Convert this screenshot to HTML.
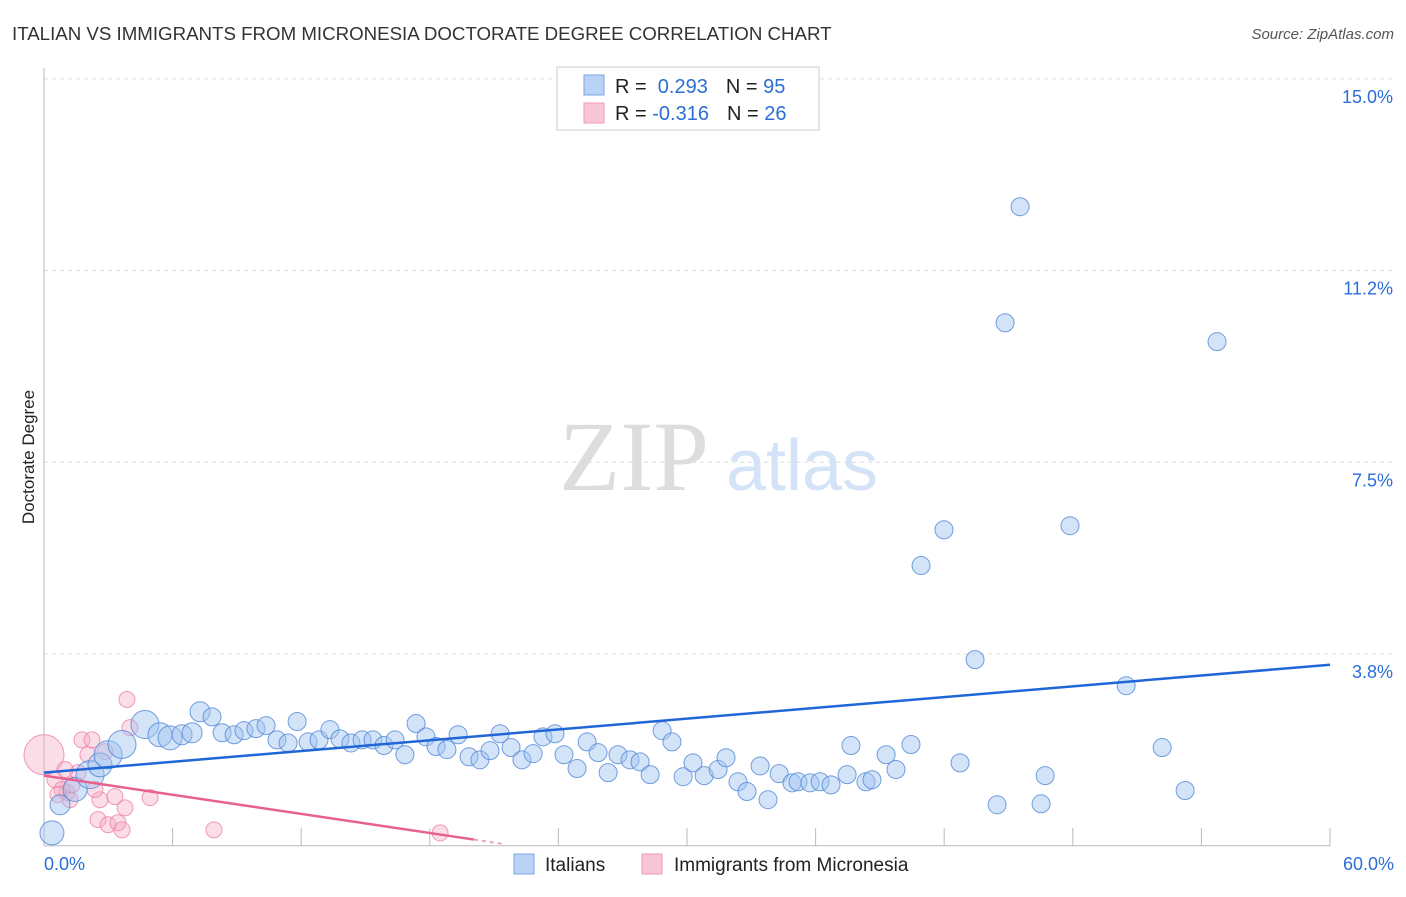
<!DOCTYPE html>
<html><head><meta charset="utf-8"><style>
body{margin:0;background:#fff;font-family:"Liberation Sans",sans-serif}
</style></head><body>
<svg id="c" width="1406" height="892" style="font-family:'Liberation Sans',sans-serif">
<text x="12" y="40" font-size="18.7" fill="#333">ITALIAN VS IMMIGRANTS FROM MICRONESIA DOCTORATE DEGREE CORRELATION CHART</text>
<text x="1394" y="39" font-size="15" fill="#555" font-style="italic" text-anchor="end">Source: ZipAtlas.com</text>
<text x="34" y="457" font-size="17" fill="#222" text-anchor="middle" transform="rotate(-90 34 457)">Doctorate Degree</text>
<g><text x="634" y="490" font-size="100" fill="#ddd" style="font-family:'Liberation Serif',serif" text-anchor="middle">ZIP</text><text x="802" y="490" font-size="72" fill="#d4e3f7" text-anchor="middle">atlas</text></g>
<g id="grid"></g><g id="marks"></g>
<g>
<rect x="557" y="67" width="262" height="63" fill="#fff" stroke="#ccc"/>
<rect x="584" y="75" width="20" height="20" fill="#b8d3f5" stroke="#7aa6e0"/>
<rect x="584" y="103" width="20" height="20" fill="#f9c6d6" stroke="#ee9ab5"/>
<text x="615" y="93" font-size="20" fill="#222">R = <tspan fill="#2b6ed6">&#160;0.293</tspan><tspan dx="18">N = </tspan><tspan fill="#2b6ed6">95</tspan></text>
<text x="615" y="120" font-size="20" fill="#222">R = <tspan fill="#2b6ed6">-0.316</tspan><tspan dx="18">N = </tspan><tspan fill="#2b6ed6">26</tspan></text>
</g>
<g>
<rect x="514" y="854" width="20" height="20" fill="#b8d3f5" stroke="#7aa6e0"/>
<text x="545" y="871" font-size="19" fill="#222">Italians</text>
<rect x="642" y="854" width="20" height="20" fill="#f9c6d6" stroke="#ee9ab5"/>
<text x="674" y="871" font-size="19" fill="#222">Immigrants from Micronesia</text>
</g>
</svg>
<script>
const blueX=[0.37,0.75,1.45,2.15,2.61,2.99,3.64,4.71,5.41,5.88,6.44,6.91,7.28,7.84,8.31,8.87,9.33,9.89,10.36,10.87,11.39,11.81,12.32,12.83,13.34,13.81,14.32,14.84,15.35,15.86,16.38,16.84,17.36,17.82,18.29,18.80,19.32,19.83,20.34,20.81,21.28,21.79,22.30,22.82,23.28,23.84,24.26,24.87,25.34,25.85,26.32,26.78,27.34,27.81,28.28,28.84,29.30,29.82,30.28,30.80,31.45,31.82,32.38,32.80,33.41,33.78,34.30,34.90,35.18,35.74,36.21,36.72,37.47,37.65,38.35,38.63,39.29,39.75,40.45,40.92,41.99,42.74,43.44,44.47,44.84,45.54,46.52,46.71,47.87,50.49,52.17,53.24,54.73];
const blueY=[0.25,0.80,1.10,1.39,1.58,1.78,1.98,2.37,2.17,2.11,2.17,2.21,2.62,2.52,2.21,2.17,2.25,2.29,2.35,2.07,2.01,2.43,2.03,2.07,2.27,2.09,2.01,2.07,2.07,1.96,2.07,1.78,2.39,2.13,1.94,1.88,2.17,1.74,1.68,1.86,2.19,1.92,1.68,1.80,2.13,2.19,1.78,1.51,2.03,1.82,1.43,1.78,1.68,1.64,1.39,2.25,2.03,1.35,1.62,1.37,1.49,1.72,1.25,1.06,1.56,0.90,1.41,1.23,1.25,1.23,1.25,1.19,1.39,1.96,1.25,1.29,1.78,1.49,1.98,5.48,6.18,1.62,3.64,0.80,10.23,12.50,0.82,1.37,6.26,3.13,1.92,1.08,9.86];
const blueSize=[12,10,12,14,12,14,14,14,12,12,10,10,10,9];
const pinkX=[0,0.51,0.84,1.07,1.21,1.59,1.77,2.05,2.24,2.52,2.61,2.85,2.99,3.31,3.45,3.64,3.78,3.87,4.01,4.95,7.93,18.48,0.65,1.31,0.98,2.38];
const pinkY=[1.78,1.29,1.10,1.04,0.90,1.43,2.07,1.78,2.07,0.51,0.90,1.84,0.41,0.96,0.45,0.31,0.74,2.86,2.31,0.94,0.31,0.25,1.00,1.19,1.49,1.10];
const pinkSize=[20];
const blueTrend=[1.43,3.54];
const pinkTrend=[1.37,0.12];
const yTicks=[3.75,7.5,11.25,15];
const yTickLabels=["3.8%","7.5%","11.2%","15.0%"];
const xTicks=[0,6,12,18,24,30,36,42,48,54,60];
const X=v=>44+v/60*1286, Y=v=>845.7-v/3.75*191.7;
const NS="http://www.w3.org/2000/svg";
function mk(t,a,p){const e=document.createElementNS(NS,t);for(const k in a)e.setAttribute(k,a[k]);p.appendChild(e);return e;}
const g=document.getElementById('grid'), m=document.getElementById('marks');
yTicks.forEach((t,i)=>{
 const l=mk('line',{x1:44,x2:1394,y1:Y(t),y2:Y(t),stroke:'#ddd','stroke-dasharray':'4,4'},g);
 
 
 const tx=mk('text',{x:1393,y:Y(t)+24,'font-size':18,fill:'#2b6ed6','text-anchor':'end'},g);
 tx.textContent=yTickLabels[i];
 
 
});
const ax=mk('path',{d:'M44 68V845.7H1330',stroke:'#bbb',fill:'none'},g);


xTicks.forEach(t=>{const l=mk('line',{x1:X(t),x2:X(t),y1:828,y2:845.7,stroke:'#bbb'},g);
 
 });
[[0,"0.0%",'start',44],[60,"60.0%",'end',1394]].forEach(d=>{const tx=mk('text',{x:d[3],y:870,'font-size':18,fill:'#2b6ed6','text-anchor':d[2]},g);tx.textContent=d[1];
 
 });
pinkX.forEach((v,i)=>{const c=mk('circle',{cx:X(v),cy:Y(pinkY[i]),r:pinkSize[i]||8,fill:'rgba(246,170,195,0.4)',stroke:'rgba(236,130,165,0.8)','stroke-width':1},m);
 
 });
blueX.forEach((v,i)=>{const c=mk('circle',{cx:X(v),cy:Y(blueY[i]),r:blueSize[i]||9,fill:'rgba(160,195,240,0.45)',stroke:'rgba(80,135,215,0.8)','stroke-width':1},m);
 
 });
const bt=mk('line',{x1:X(0),y1:Y(blueTrend[0]),x2:X(60),y2:Y(blueTrend[1]),stroke:'#2166d6','stroke-width':2.5},m);


const pt=mk('line',{x1:X(0),y1:Y(pinkTrend[0]),x2:X(20.06),y2:Y(pinkTrend[1]),stroke:'#e8608f','stroke-width':2.5},m);


const slope=(pinkTrend[1]-pinkTrend[0])/20.06;
const pd=mk('line',{x1:X(20.06),y1:Y(pinkTrend[1]),x2:X(21.5),y2:Y(pinkTrend[0]+slope*21.5),stroke:'#f0a0bb','stroke-width':2,'stroke-dasharray':'4,4'},m);


</script>
</body></html>
